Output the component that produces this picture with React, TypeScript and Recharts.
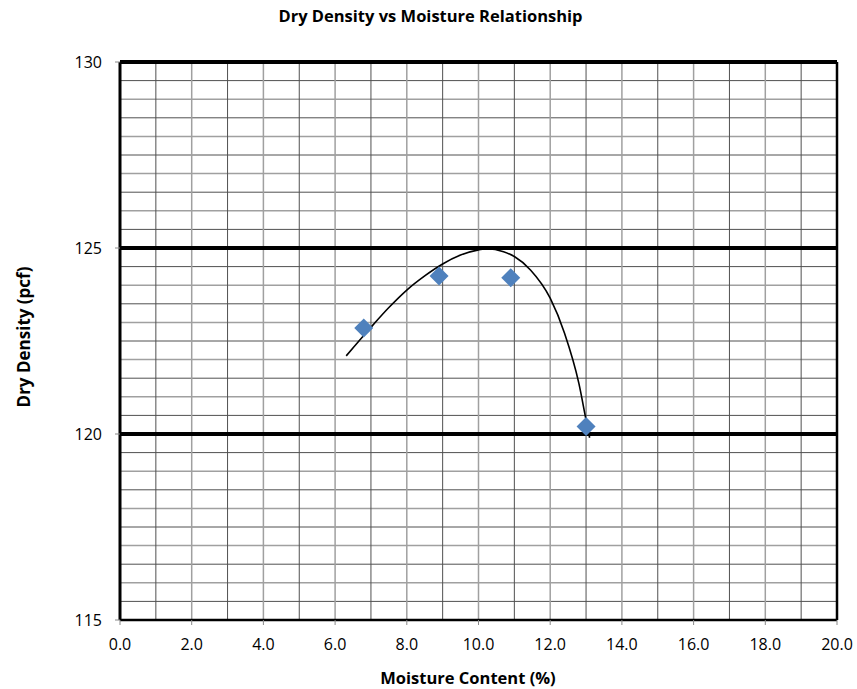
import React from "react";
import {
  ComposedChart,
  Scatter,
  Line,
  XAxis,
  YAxis,
  ReferenceLine,
  Label,
} from "recharts";

// measured test points
const moisture = [6.8, 8.9, 10.9, 13.0];
const dryDensity = [122.85, 124.25, 124.2, 120.2];

// fitted curve
const curveMoisture = [6.31, 7.0, 7.5, 8.0, 8.5, 9.0, 9.5, 10.0, 10.25, 10.7, 11.0, 11.45, 12.0, 12.4, 12.8, 13.0, 13.1];
const curveDensity = [122.1, 122.87, 123.4, 123.87, 124.25, 124.57, 124.81, 124.95, 124.98, 124.9, 124.77, 124.41, 123.65, 122.71, 121.36, 120.38, 119.9];

const xTicks = [0, 2, 4, 6, 8, 10, 12, 14, 16, 18, 20];
const yTicks = [115, 120, 125, 130];

const minorX = [1, 3, 5, 7, 9, 11, 13, 15, 17, 19];
const majorX = [2, 4, 6, 8, 10, 12, 14, 16, 18];
const minorY = [115.5, 116.5, 117.5, 118.5, 119.5, 120.5, 121.5, 122.5, 123.5, 124.5, 125.5, 126.5, 127.5, 128.5, 129.5];
const majorY = [116, 117, 118, 119, 121, 122, 123, 124, 126, 127, 128, 129];
const boldY = [120, 125, 130];

const points = moisture.map((x, i) => ({ x, y: dryDensity[i] }));
const curve = curveMoisture.map((x, i) => ({ x, y: curveDensity[i] }));

const FONT = "'Open Sans', sans-serif";

const Diamond = (props: any) => {
  const { cx, cy } = props;
  const r = 9.5;
  return (
    <polygon
      points={`${cx},${cy - r} ${cx + r},${cy} ${cx},${cy + r} ${cx - r},${cy}`}
      fill="#4F81BD"
    />
  );
};

const YTitle = (props: any) => {
  const vb = props.viewBox || {};
  const cy = 337;
  return (
    <text
      x={23}
      y={cy}
      transform={`rotate(-90, 23, ${cy})`}
      textAnchor="middle"
      dominantBaseline="central"
      fontFamily={FONT}
      fontWeight={700}
      fontSize={17}
      fill="#000"
    >
      Dry Density (pcf)
    </text>
  );
};

const XTitle = () => (
  <text
    x={468}
    y={677}
    textAnchor="middle"
    dominantBaseline="central"
    fontFamily={FONT}
    fontWeight={700}
    fontSize={16.5}
    fill="#000"
  >
    Moisture Content (%)
  </text>
);

export default function App() {
  return (
    <div
      style={{
        position: "absolute",
        left: 0,
        top: 0,
        width: 857,
        height: 689,
        background: "#fff",
      }}
    >
      <div
        style={{
          position: "absolute",
          top: 4,
          left: 278,
          width: 305,
          textAlign: "center",
          whiteSpace: "nowrap",
          fontFamily: FONT,
          fontWeight: 700,
          fontSize: 16.5,
          color: "#000",
        }}
      >
        Dry Density vs Moisture Relationship
      </div>
      <ComposedChart
        width={857}
        height={689}
        margin={{ top: 62, right: 20, left: 0, bottom: 0 }}
      >
        <XAxis
          type="number"
          dataKey="x"
          domain={[0, 20]}
          ticks={xTicks}
          interval={0}
          allowDataOverflow
          height={69}
          tickFormatter={(v: number) => v.toFixed(1)}
          tick={{ fill: "#000", fontSize: 16, fontFamily: FONT }}
          tickSize={5}
          tickMargin={14}
          tickLine={{ stroke: "#888" }}
          axisLine={{ stroke: "#000", strokeWidth: 2.5 }}
        >
          <Label content={<XTitle />} />
        </XAxis>
        <YAxis
          type="number"
          dataKey="y"
          domain={[115, 130]}
          ticks={yTicks}
          interval={0}
          allowDataOverflow
          width={120}
          tick={{ fill: "#000", fontSize: 16, fontFamily: FONT }}
          tickSize={5}
          tickMargin={13}
          tickLine={{ stroke: "#888" }}
          axisLine={{ stroke: "#000", strokeWidth: 3 }}
        >
          <Label content={<YTitle />} />
        </YAxis>

        {minorY.map((v) => (
          <ReferenceLine key={`my${v}`} y={v} stroke="#505050" strokeWidth={1} />
        ))}
        {majorY.map((v) => (
          <ReferenceLine key={`My${v}`} y={v} stroke="#a0a0a0" strokeWidth={1.5} />
        ))}
        {minorX.map((v) => (
          <ReferenceLine key={`mx${v}`} x={v} stroke="#505050" strokeWidth={1} />
        ))}
        {majorX.map((v) => (
          <ReferenceLine key={`Mx${v}`} x={v} stroke="#a0a0a0" strokeWidth={1.5} />
        ))}
        {boldY.map((v) => (
          <ReferenceLine key={`by${v}`} y={v} stroke="#000" strokeWidth={4} />
        ))}
        <ReferenceLine x={20} stroke="#000" strokeWidth={2.5} />

        <Scatter
          data={points}
          dataKey="y"
          shape={<Diamond />}
          isAnimationActive={false}
        />
        <Line
          data={curve}
          dataKey="y"
          type="monotone"
          stroke="#000"
          strokeWidth={1.6}
          dot={false}
          activeDot={false}
          isAnimationActive={false}
        />
      </ComposedChart>
    </div>
  );
}
